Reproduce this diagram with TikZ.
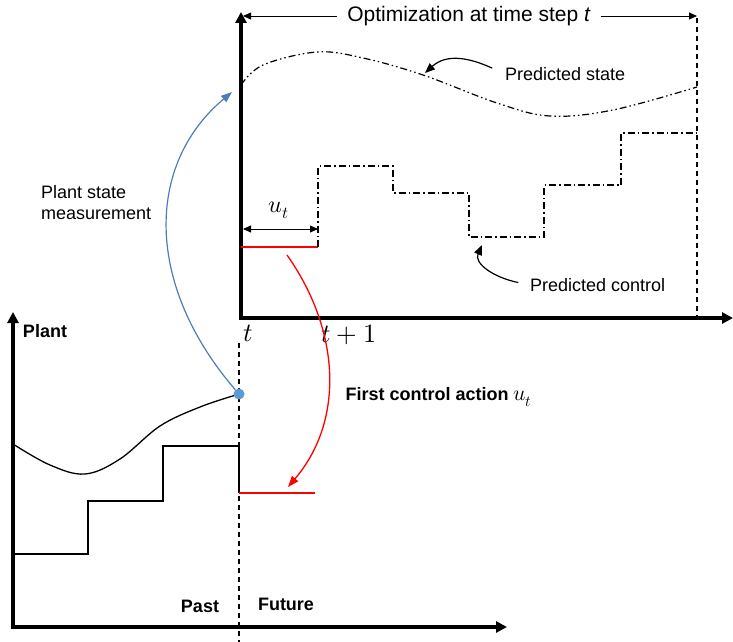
\documentclass[tikz,border=0pt]{standalone}
\usepackage{fontspec}
\usepackage{unicode-math}
\setmainfont{Liberation Sans}
\setmathfont{Latin Modern Math}[Scale=1.2]
\usetikzlibrary{arrows.meta}

\definecolor{measblue}{RGB}{74,126,187}
\definecolor{dotblue}{RGB}{91,155,213}

\begin{document}
\begin{tikzpicture}[
    x=1pt, y=-1pt,
    font=\fontsize{18}{21}\selectfont,
    plotaxis/.style={line width=3.5pt, line join=miter, {Triangle[length=11pt,width=11pt]}-{Triangle[length=11pt,width=11pt]}},
    horizon/.style={line width=1.2pt, dash pattern=on 5pt off 4pt},
    prediction/.style={line width=1.2pt, dash pattern=on 7pt off 3pt on 1.5pt off 3pt on 1.5pt off 3pt},
    ctrlpred/.style={line width=1.2pt, dash pattern=on 7pt off 3pt on 1.5pt off 3pt},
    pointer/.style={line width=1.2pt, -{Triangle[length=10pt,width=8pt]}},
    dimline/.style={line width=0.8pt, -{Triangle[length=8pt,width=7pt]}},
    firstmove/.style={red, line width=2pt},
    note/.style={inner sep=0pt, align=left},
    bold/.style={font=\fontsize{18}{21}\selectfont\bfseries},
    symbol/.style={font=\fontsize{22}{26}\selectfont}
]
    \useasboundingbox (0,0) rectangle (733,642);

    % optimization window
    \draw[plotaxis] (241,12) -- (241,318) -- (733,318);
    \draw[horizon] (697,18) -- (697,318);
    \node[font=\fontsize{21}{25}\selectfont, inner xsep=10pt] (window) at (469,16) {Optimization at time step \textit{t}};
    \coordinate (wstart) at (243,16);
    \coordinate (wend) at (697,16);
    \draw[dimline] (window.west) -- (wstart);
    \draw[dimline] (window.east) -- (wend);

    % predicted state trajectory
    \draw[prediction] plot[smooth, tension=0.6] coordinates {(241,85) (263,65) (317,52) (363,58) (423,75) (497,103) (550,116) (613,110) (697,87)};
    \node[note, anchor=west] (statelbl) at (505,74) {Predicted state};
    \coordinate (statetip) at (425,73);
    \draw[pointer, shorten <=14pt] (statelbl.west) .. controls (470,58) and (447,53) .. (statetip);

    % predicted control sequence
    \coordinate (u0) at (241,247);
    \coordinate (u1) at (318,247);
    \draw[firstmove] (u0) -- (u1);
    \draw[ctrlpred] (u1) |- (393,166) |- (469,193) |- (544,237) |- (621,185) |- (697,133);
    \coordinate (ustart) at (243,229);
    \coordinate (uend) at (318,229);
    \draw[dimline, {Triangle[length=8pt,width=7pt]}-{Triangle[length=8pt,width=7pt]}] (ustart) -- (uend);
    \node[font=\fontsize{20}{24}\selectfont] (ulbl) at (279,210) {$u_t$};
    \node[note, anchor=west] (ctrllbl) at (530,285) {Predicted control};
    \coordinate (ctrltip) at (482,245);
    \draw[pointer, shorten <=12pt] (ctrllbl.west) .. controls (492,277) and (474,263) .. (ctrltip);

    \node[symbol] (tnow) at (248,333) {$t$};
    \node[symbol] (tnext) at (349,335) {$t+1$};

    % plant history
    \draw[plotaxis] (13,312) -- (13,627) -- (507,627);
    \draw[horizon] (239,343) -- (239,642);
    \draw[line width=1.3pt] plot[smooth, tension=0.6] coordinates {(13,444) (50,465) (85,474) (120,459) (160,426) (200,407) (236,395)};
    \draw[line width=1.3pt] (13,554) -| (88,501) -| (163,446) -| (239,493);
    \coordinate (a0) at (239,493);
    \coordinate (a1) at (315,493);
    \draw[firstmove] (a0) -- (a1);
    \node[circle, fill=dotblue, inner sep=0pt, minimum size=11pt] (meas) at (239,394) {};

    % measurement and applied control
    \coordinate (meastip) at (232,92);
    \draw[measblue, line width=1.2pt, -{Triangle[length=11pt,width=8pt]}] (meas) .. controls (145,285) and (145,165) .. (meastip);
    \coordinate (applystart) at (287,255);
    \coordinate (applytip) at (288,487);
    \draw[red, line width=1.3pt, -{Triangle[length=11pt,width=8pt]}] (applystart) .. controls (340,330) and (345,420) .. (applytip);

    \node[note, anchor=west] (measlbl) at (41,203) {Plant state\\measurement};
    \node[bold] (plantlbl) at (45,331) {Plant};
    \node[bold] (pastlbl) at (200,606) {Past};
    \node[bold] (futurelbl) at (286,604) {Future};
    \node[bold, anchor=west] (applylbl) at (342,397) {First control action $u_t$};
\end{tikzpicture}
\end{document}
